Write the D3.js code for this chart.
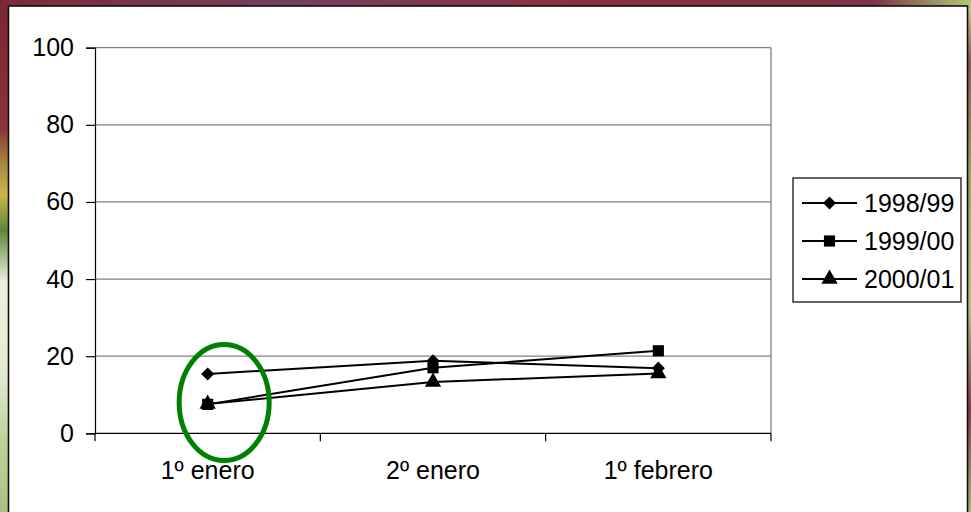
<!DOCTYPE html>
<html>
<head>
<meta charset="utf-8">
<script src="https://cdn.jsdelivr.net/npm/d3@7"></script>
<style>
  html, body { margin: 0; padding: 0; }
  body { width: 971px; height: 512px; overflow: hidden; }
  svg { display: block; }
</style>
</head>
<body>
<svg id="chart" width="971" height="512"></svg>
<script>
// Periods along the x axis
const categories = ["1º enero", "2º enero", "1º febrero"];
// Season series
const seasons = ["1998/99", "1999/00", "2000/01"];
const values1998 = [15.4, 18.8, 16.9];
const values1999 = [7.5, 17.0, 21.4];
const values2000 = [7.6, 13.3, 15.5];
const yTicks = [0, 20, 40, 60, 80, 100];

// Marker shapes: a square turned 45° for the diamond, plain square, triangle
const diamondSymbol = {
  draw(ctx, size) {
    const r = Math.sqrt(size) / 2 * Math.SQRT2;
    ctx.moveTo(0, -r); ctx.lineTo(r, 0); ctx.lineTo(0, r); ctx.lineTo(-r, 0); ctx.closePath();
  }
};
const markerShapes = [diamondSymbol, d3.symbolSquare, d3.symbolTriangle];
const symbolSize = [85, 125, 115];

const series = [
  { name: seasons[0], values: values1998, shape: markerShapes[0], size: symbolSize[0] },
  { name: seasons[1], values: values1999, shape: markerShapes[1], size: symbolSize[1] },
  { name: seasons[2], values: values2000, shape: markerShapes[2], size: symbolSize[2] }
];

const svg = d3.select("#chart");
const W = 971, H = 512;
const font = "'Liberation Sans', Arial, sans-serif";
const fontSize = 25;

// Photographic backdrop behind the white slide panel
const defs = svg.append("defs");
const leftGrad = defs.append("linearGradient").attr("id", "leftBg")
  .attr("x1", 0).attr("y1", 0).attr("x2", 0).attr("y2", 1);
[[0, "#7a2733"], [0.25, "#8a3338"], [0.32, "#a6883f"], [0.38, "#c8b84c"], [0.45, "#5f853a"],
 [0.55, "#e9f0de"], [0.72, "#e3ecd3"], [0.86, "#bcd39a"], [1, "#a7c382"]]
  .forEach(([o, c]) => leftGrad.append("stop").attr("offset", o).attr("stop-color", c));
const rightGrad = defs.append("linearGradient").attr("id", "rightBg")
  .attr("x1", 0).attr("y1", 0).attr("x2", 0).attr("y2", 1);
[[0, "#c3d987"], [0.12, "#8a5a55"], [0.35, "#8bab5c"], [0.6, "#a7c47f"], [0.8, "#7d3f4a"], [1, "#9bb872"]]
  .forEach(([o, c]) => rightGrad.append("stop").attr("offset", o).attr("stop-color", c));
const topGrad = defs.append("linearGradient").attr("id", "topBg")
  .attr("x1", 0).attr("y1", 0).attr("x2", 1).attr("y2", 0);
[[0, "#7a2a36"], [0.3, "#744060"], [0.6, "#8a3040"], [0.9, "#7a3546"], [1, "#b0c878"]]
  .forEach(([o, c]) => topGrad.append("stop").attr("offset", o).attr("stop-color", c));

svg.append("rect").attr("x", 0).attr("y", 0).attr("width", W).attr("height", H).attr("fill", "url(#leftBg)");
svg.append("rect").attr("x", 900).attr("y", 0).attr("width", 71).attr("height", H).attr("fill", "url(#rightBg)");
svg.append("rect").attr("x", 0).attr("y", 0).attr("width", W).attr("height", 8).attr("fill", "url(#topBg)");

// White panel with dark frame
svg.append("rect")
  .attr("x", 8.5).attr("y", 6).attr("width", 959).attr("height", 520)
  .attr("fill", "#ffffff").attr("stroke", "#1a0a0e").attr("stroke-width", 1.6);

// Plot area
const plot = { left: 95, right: 771, top: 47.7, bottom: 433.3 };

const x = d3.scaleBand().domain(categories).range([plot.left, plot.right]).padding(0);
const y = d3.scaleLinear().domain([0, 100]).range([plot.bottom, plot.top]);

// Horizontal gridlines
svg.append("g")
  .selectAll("line")
  .data(yTicks.filter(t => t > 0))
  .join("line")
  .attr("x1", plot.left).attr("x2", plot.right)
  .attr("y1", d => y(d)).attr("y2", d => y(d))
  .attr("stroke", "#808080").attr("stroke-width", 1.3);

// Right border of plot area
svg.append("line")
  .attr("x1", plot.right).attr("x2", plot.right)
  .attr("y1", plot.top).attr("y2", plot.bottom)
  .attr("stroke", "#808080").attr("stroke-width", 1.3);

// Y axis
const yAxis = svg.append("g")
  .attr("transform", `translate(${plot.left},0)`)
  .call(d3.axisLeft(y).tickValues(yTicks).tickSize(9).tickPadding(12).tickFormat(d3.format("d")));
yAxis.select(".domain").attr("stroke", "#000").attr("stroke-width", 1.2);
yAxis.selectAll(".tick line").attr("stroke", "#000").attr("stroke-width", 1.2);
yAxis.selectAll(".tick text")
  .attr("font-family", font).attr("font-size", fontSize).attr("fill", "#000");

// X axis: ticks on category boundaries
const xAxisG = svg.append("g").attr("transform", `translate(0,${plot.bottom})`);
xAxisG.append("line")
  .attr("x1", plot.left).attr("x2", plot.right)
  .attr("stroke", "#000").attr("stroke-width", 1.2);
const boundaries = categories.map(c => x(c)).concat([x(categories[categories.length - 1]) + x.bandwidth()]);
xAxisG.selectAll("line.tick")
  .data(boundaries)
  .join("line")
  .attr("class", "tick")
  .attr("x1", d => d).attr("x2", d => d)
  .attr("y1", 0).attr("y2", 8)
  .attr("stroke", "#000").attr("stroke-width", 1.2);
xAxisG.selectAll("text")
  .data(categories)
  .join("text")
  .attr("x", d => x(d) + x.bandwidth() / 2)
  .attr("y", 46)
  .attr("text-anchor", "middle")
  .attr("font-family", font).attr("font-size", fontSize).attr("fill", "#000")
  .text(d => d);

// Series lines and markers
const cx = (d, i) => x(categories[i]) + x.bandwidth() / 2;
const line = d3.line().x((d, i) => cx(d, i)).y(d => y(d));

series.forEach(s => {
  svg.append("path")
    .datum(s.values)
    .attr("d", line)
    .attr("fill", "none").attr("stroke", "#000").attr("stroke-width", 2);
});
// markers: triangles first, squares on top
[2, 0, 1].forEach(si => {
  const s = series[si];
  svg.append("g")
    .selectAll("path")
    .data(s.values)
    .join("path")
    .attr("transform", (d, i) => `translate(${cx(d, i)},${y(d)})`)
    .attr("d", d3.symbol().type(s.shape).size(s.size))
    .attr("fill", "#000");
});

// Green highlight ellipse around the first period
svg.append("ellipse")
  .attr("cx", x(categories[0]) + x.bandwidth() / 2 + 16.5)
  .attr("cy", 402.5)
  .attr("rx", 45).attr("ry", 58)
  .attr("fill", "none").attr("stroke", "#008000").attr("stroke-width", 5);

// Legend
const legend = svg.append("g");
legend.append("rect")
  .attr("x", 793).attr("y", 178).attr("width", 168).attr("height", 124)
  .attr("fill", "#fff").attr("stroke", "#000").attr("stroke-width", 1.2);
const rowY = [203, 241, 279];
series.forEach((s, i) => {
  const g = legend.append("g").attr("transform", `translate(0,${rowY[i]})`);
  g.append("line").attr("x1", 802).attr("x2", 857).attr("y1", 0).attr("y2", 0)
    .attr("stroke", "#000").attr("stroke-width", 2);
  g.append("path").attr("transform", "translate(829.5,0)")
    .attr("d", d3.symbol().type(s.shape).size(s.size)).attr("fill", "#000");
  g.append("text").attr("x", 864).attr("y", 9)
    .attr("font-family", font).attr("font-size", fontSize).attr("fill", "#000")
    .text(s.name);
});
</script>
</body>
</html>
